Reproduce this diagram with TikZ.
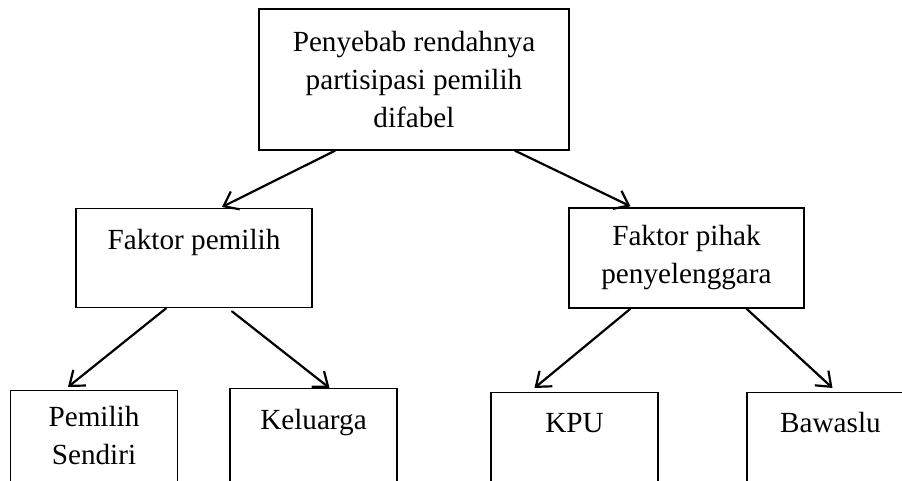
\documentclass[tikz,border=0pt]{standalone}
\usepackage{fontspec}
\setmainfont{Liberation Serif}
\usetikzlibrary{arrows.meta, positioning}

\tikzset{
  box/.style={draw, line width=0.7pt, align=center, inner sep=0pt, minimum width=#1},
  box/.default=83.5pt,
  link/.style={-{Straight Barb[length=6.5pt, width=10pt]}, line width=1.1pt, line cap=round}
}

\begin{document}
\begin{tikzpicture}[x=0.5pt, y=-0.5pt, font=\fontsize{14.6}{19}\selectfont]
\useasboundingbox (0,0) rectangle (902,481);
\clip (0,0) rectangle (902,481);

\node[box=155pt, minimum height=70.5pt] (root) at (414,79.5)
  {Penyebab rendahnya\\partisipasi pemilih\\difabel};

\node[box=118pt, anchor=north, text height=20.25pt, text depth=29.25pt] (voter) at (194,208)
  {Faktor pemilih};
\node[box=117.5pt, minimum height=50pt] (organizer) at (686.5,258)
  {Faktor pihak\\penyelenggara};

\node[box, anchor=north, text height=36.75pt, text depth=90pt] (self) at (94,390)
  {Pemilih\\Sendiri};
\node[box, anchor=north, text height=20.25pt, text depth=90pt] (family) at (313.5,388)
  {Keluarga};
\node[box, anchor=north, text height=19.75pt, text depth=90pt] (kpu) at (574.5,392)
  {KPU};
\node[box, anchor=north, text height=19.75pt, text depth=90pt] (bawaslu) at (830.5,392)
  {Bawaslu};

\draw[link] ([xshift=-39.5pt]root.south) -- ([xshift=14pt, yshift=0.5pt]voter.north);
\draw[link] ([xshift=50.5pt]root.south) -- ([xshift=-28pt, yshift=0.5pt]organizer.north);
\draw[link] ([xshift=-14pt]voter.south) -- ([xshift=-13pt, yshift=1.5pt]self.north);
\draw[link] ([xshift=19pt, yshift=-1.5pt]voter.south) -- ([xshift=8pt]family.north);
\draw[link] ([xshift=-28pt]organizer.south) -- ([xshift=-20pt, yshift=2pt]kpu.north);
\draw[link] ([xshift=30pt]organizer.south) -- ([xshift=1pt, yshift=2pt]bawaslu.north);
\end{tikzpicture}
\end{document}
